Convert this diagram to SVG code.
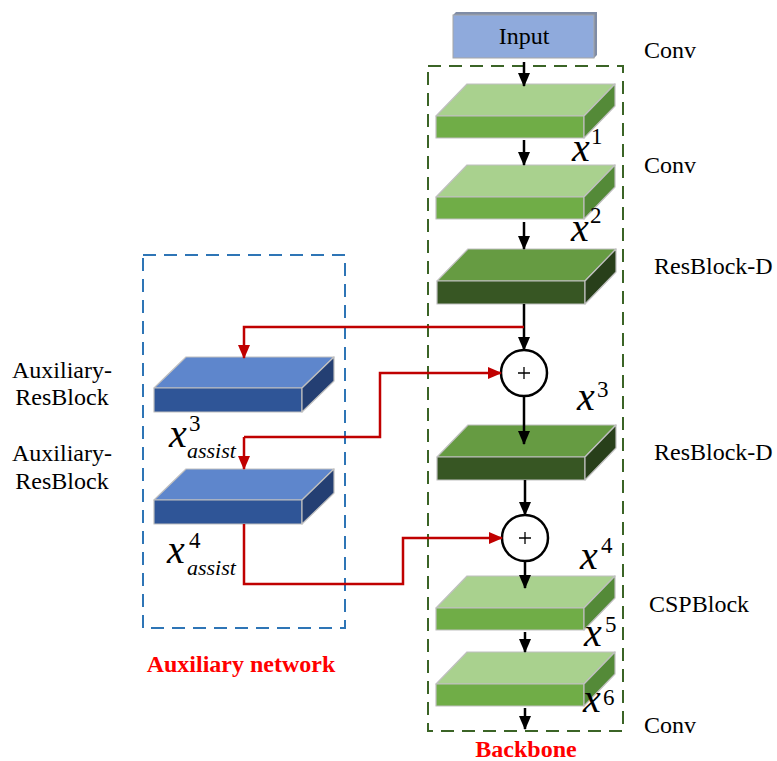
<svg xmlns="http://www.w3.org/2000/svg" width="777" height="761" viewBox="0 0 777 761" font-family="'Liberation Serif', 'DejaVu Serif', serif">
  <style>
    text { font-family: 'Liberation Serif', 'DejaVu Serif', serif; }
    .lbl { font-size: 24px; fill: #000; }
    .var { font-style: italic; font-size: 40px; fill: #000; }
    .sup { font-size: 23px; fill: #000; }
    .sub { font-style: italic; font-size: 22px; fill: #000; }
    .title { font-weight: bold; font-size: 24px; fill: #ff0000; }
    .edge { stroke: #bfbfbf; stroke-width: 1.2; stroke-linejoin: round; }
    .lg-top { fill: #a9d18e; } .lg-front { fill: #70ad47; } .lg-side { fill: #548a38; }
    .dg-top { fill: #669b42; } .dg-front { fill: #375623; } .dg-side { fill: #283f1a; }
    .bl-top { fill: #5e86cc; } .bl-front { fill: #2f5597; } .bl-side { fill: #243f73; }
    .flow { fill: none; stroke: #000; stroke-width: 2.5; }
    .aux { fill: none; stroke: #c00000; stroke-width: 2.5; }
    .frame-bb { fill: none; stroke: #3b6426; stroke-width: 2; stroke-dasharray: 13 8; }
    .frame-aux { fill: none; stroke: #2e75b6; stroke-width: 2; stroke-dasharray: 13 8; }
    .sum { fill: #fff; stroke: #000; stroke-width: 2.5; }
    .plus { stroke: #000; stroke-width: 1.3; }
  </style>
  <defs>
    <marker id="ah-black" markerUnits="userSpaceOnUse" markerWidth="14" markerHeight="14" viewBox="0 0 14 14" refX="13" refY="7" orient="auto">
      <path d="M0,1 L14,7 L0,13 Z" fill="#000"/>
    </marker>
    <marker id="ah-red" markerUnits="userSpaceOnUse" markerWidth="14" markerHeight="14" viewBox="0 0 14 14" refX="13" refY="7" orient="auto">
      <path d="M0,1 L14,7 L0,13 Z" fill="#c00000"/>
    </marker>
    <!-- 3D slab: front 148x22, depth offset (31,-32) -->
    <g id="slab-lg">
      <polygon class="lg-top edge" points="0,0 31,-32 179,-32 148,0"/>
      <rect class="lg-front edge" x="0" y="0" width="148" height="22"/>
      <polygon class="lg-side edge" points="148,0 179,-32 179,-10 148,22"/>
    </g>
    <g id="slab-dg">
      <polygon class="dg-top edge" points="0,0 31,-32 179,-32 148,0"/>
      <rect class="dg-front edge" x="0" y="0" width="148" height="23"/>
      <polygon class="dg-side edge" points="148,0 179,-32 179,-9 148,23"/>
    </g>
    <g id="slab-bl">
      <polygon class="bl-top edge" points="0,0 32,-31 180,-31 148,0"/>
      <rect class="bl-front edge" x="0" y="0" width="148" height="24"/>
      <polygon class="bl-side edge" points="148,0 180,-31 180,-7 148,24"/>
    </g>
  </defs>

  <rect width="777" height="761" fill="#fff"/>

  <!-- frames -->
  <rect class="frame-bb" x="428" y="66" width="195" height="665"/>
  <rect class="frame-aux" x="143" y="255" width="202" height="373"/>

  <!-- input -->
  <g id="input">
    <polygon points="453,15 456,12 597,12 597,55 594,58 594,15" fill="#7f8ca6"/>
    <rect x="453" y="15" width="141" height="43" fill="#8faadc" stroke="#a6a6a6" stroke-width="1"/>
    <text class="lbl" x="524" y="44" text-anchor="middle">Input</text>
  </g>

  <!-- backbone stages -->
  <g id="conv1"><use href="#slab-lg" x="436" y="116"/></g>
  <g id="conv2"><use href="#slab-lg" x="436" y="197"/></g>
  <g id="resblock1"><use href="#slab-dg" x="437" y="281"/></g>
  <g id="sum1">
    <circle class="sum" cx="524" cy="373" r="23"/>
    <path class="plus" d="M518,373 H530 M524,367 V379"/>
  </g>
  <g id="resblock2"><use href="#slab-dg" x="437" y="457"/></g>
  <g id="sum2">
    <circle class="sum" cx="525" cy="538" r="23"/>
    <path class="plus" d="M519,538 H531 M525,532 V544"/>
  </g>
  <g id="cspblock"><use href="#slab-lg" x="436" y="608"/></g>
  <g id="conv3"><use href="#slab-lg" x="436" y="684"/></g>

  <!-- auxiliary stages -->
  <g id="aux1"><use href="#slab-bl" x="154" y="388"/></g>
  <g id="aux2"><use href="#slab-bl" x="154" y="500"/></g>

  <!-- connectors -->
  <g id="connectors">
    <path class="flow" d="M524,62 V86" marker-end="url(#ah-black)"/>
    <path class="flow" d="M524,140 V165" marker-end="url(#ah-black)"/>
    <path class="flow" d="M524,222 V249" marker-end="url(#ah-black)"/>
    <path class="flow" d="M524,304 V350" marker-end="url(#ah-black)"/>
    <path class="flow" d="M524,396 V444" marker-end="url(#ah-black)"/>
    <path class="flow" d="M525,480 V515" marker-end="url(#ah-black)"/>
    <path class="flow" d="M525,561 V588" marker-end="url(#ah-black)"/>
    <path class="flow" d="M525,632 V652" marker-end="url(#ah-black)"/>
    <path class="flow" d="M525,708 V729" marker-end="url(#ah-black)"/>

    <path class="aux" d="M524,327 H244 V358" marker-end="url(#ah-red)"/>
    <path class="aux" d="M244,437 H380 V373 H501" marker-end="url(#ah-red)"/>
    <path class="aux" d="M244,437 V469" marker-end="url(#ah-red)"/>
    <path class="aux" d="M244,524 V584 H403 V538 H502" marker-end="url(#ah-red)"/>
  </g>

  <!-- feature labels -->
  <g id="feature-labels">
    <text class="var" x="572" y="161">x</text><text class="sup" x="591" y="144">1</text>
    <text class="var" x="571" y="241">x</text><text class="sup" x="590" y="223">2</text>
    <text class="var" x="577" y="410">x</text><text class="sup" x="597" y="397">3</text>
    <text class="var" x="580" y="569">x</text><text class="sup" x="601" y="553">4</text>
    <text class="var" x="584" y="646">x</text><text class="sup" x="605" y="632">5</text>
    <text class="var" x="583" y="712">x</text><text class="sup" x="603" y="705">6</text>

    <text class="var" x="169" y="447">x</text><text class="sup" x="189" y="431">3</text><text class="sub" x="187" y="458">assist</text>
    <text class="var" x="167" y="563">x</text><text class="sup" x="189" y="548">4</text><text class="sub" x="187" y="575">assist</text>
  </g>

  <!-- stage names -->
  <g id="stage-labels">
    <text class="lbl" x="644" y="58">Conv</text>
    <text class="lbl" x="644" y="173">Conv</text>
    <text class="lbl" x="654" y="274">ResBlock-D</text>
    <text class="lbl" x="654" y="460">ResBlock-D</text>
    <text class="lbl" x="649" y="612">CSPBlock</text>
    <text class="lbl" x="644" y="733">Conv</text>
    <text class="lbl" x="62" y="378" text-anchor="middle">Auxiliary-</text>
    <text class="lbl" x="62" y="405" text-anchor="middle">ResBlock</text>
    <text class="lbl" x="62" y="461" text-anchor="middle">Auxiliary-</text>
    <text class="lbl" x="62" y="489" text-anchor="middle">ResBlock</text>
  </g>

  <text class="title" x="241" y="672" text-anchor="middle">Auxiliary network</text>
  <text class="title" x="526" y="757" text-anchor="middle">Backbone</text>
</svg>
